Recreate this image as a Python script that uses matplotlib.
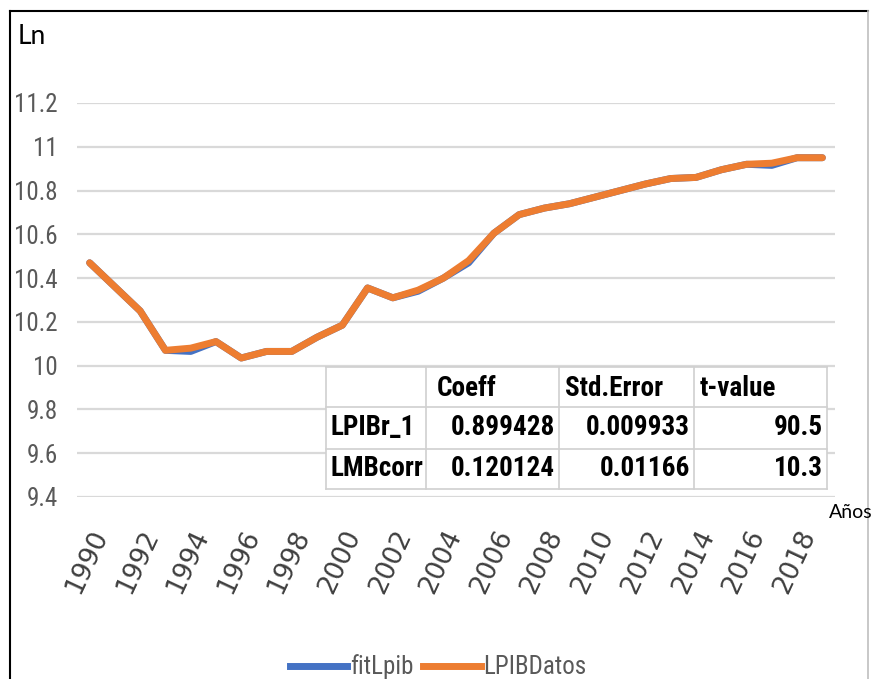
import matplotlib
matplotlib.use("Agg")
import matplotlib.pyplot as plt
from matplotlib import font_manager
from matplotlib.lines import Line2D
from matplotlib.patches import Rectangle
import matplotlib.transforms as mtransforms

# data
years = list(range(1990, 2020))
lpib_datos = [10.47, 10.36, 10.25, 10.07, 10.08, 10.11, 10.035, 10.065, 10.065, 10.13,
              10.185, 10.355, 10.31, 10.345, 10.40, 10.48, 10.605, 10.69, 10.72, 10.74,
              10.77, 10.80, 10.83, 10.855, 10.86, 10.895, 10.92, 10.925, 10.95, 10.95]
fit_lpib = [10.47, 10.36, 10.25, 10.07, 10.065, 10.11, 10.035, 10.065, 10.065, 10.13,
            10.185, 10.355, 10.31, 10.34, 10.40, 10.47, 10.605, 10.69, 10.72, 10.74,
            10.77, 10.80, 10.83, 10.855, 10.86, 10.895, 10.92, 10.915, 10.95, 10.95]
y_ticks = [9.4, 9.6, 9.8, 10, 10.2, 10.4, 10.6, 10.8, 11, 11.2]
y_tick_labels = ["9.4", "9.6", "9.8", "10", "10.2", "10.4", "10.6", "10.8", "11", "11.2"]

table_cols = ["", "Coeff", "Std.Error", "t-value"]
table_rows = ["LPIBr_1", "LMBcorr"]
table_vals = [["0.899428", "0.009933", "90.5"],
              ["0.120124", "0.01166", "10.3"]]

# pick a condensed face if the machine has one, else plain Liberation Sans
installed = {f.name for f in font_manager.fontManager.ttflist}
narrow = [n for n in ["Liberation Sans Narrow", "Roboto Condensed", "Open Sans Condensed",
                      "DejaVu Sans Condensed"] if n in installed]
narrow += ["Liberation Sans", "DejaVu Sans"]
GRAY = "#595959"

W, H = 876, 679
fig = plt.figure(figsize=(W / 100, H / 100), dpi=100)

# plot box in pixels
px0, px1, py_top, py_bot = 77, 835, 103, 497
ax = fig.add_axes([px0 / W, 1 - py_bot / H, (px1 - px0) / W, (py_bot - py_top) / H])

x = list(range(len(years)))
ax.plot(x, fit_lpib, color="#4472C4", lw=5, solid_capstyle="round", zorder=3)
ax.plot(x, lpib_datos, color="#ED7D31", lw=5, solid_capstyle="round", zorder=4)

ax.set_xlim(-0.5, len(years) - 0.5)
ax.set_ylim(9.4, 11.2)
ax.set_yticks(y_ticks)
ax.set_yticklabels(y_tick_labels, family=narrow, fontsize=18, color=GRAY)
ax.set_xticks(x[::2])
ax.set_xticklabels([str(y) for y in years[::2]], family="DejaVu Sans", fontsize=19,
                   color="#3F3F3F", rotation=65, ha="right", va="top",
                   rotation_mode="anchor")
shift = mtransforms.ScaledTranslation(2 / 72, 0, fig.dpi_scale_trans)
for lab in ax.get_xticklabels():
    lab.set_transform(lab.get_transform() + shift)
ax.tick_params(axis="x", length=0, pad=21)
ax.tick_params(axis="y", length=0, pad=14)
for s in ax.spines.values():
    s.set_visible(False)
ax.grid(axis="y", color="#D9D9D9", lw=1.6, zorder=0)
ax.set_axisbelow(True)


# coefficient table, laid out in pixel boundaries
def fx(p):
    return (p - px0) / (px1 - px0)


def fy(p):
    return (py_bot - p) / (py_bot - py_top)


col_edges = [326, 426, 559, 694, 827]
row_edges = [367, 407, 449, 489]
ax.add_patch(Rectangle((fx(col_edges[0]), fy(row_edges[-1])),
                       fx(col_edges[-1]) - fx(col_edges[0]),
                       fy(row_edges[0]) - fy(row_edges[-1]),
                       transform=ax.transAxes, facecolor="white", edgecolor="none",
                       zorder=5))
for c in col_edges:
    ax.add_line(Line2D([fx(c), fx(c)], [fy(row_edges[0]), fy(row_edges[-1])],
                       transform=ax.transAxes, color="#D0D0D0", lw=1.2, zorder=6))
for r in row_edges:
    ax.add_line(Line2D([fx(col_edges[0]), fx(col_edges[-1])], [fy(r), fy(r)],
                       transform=ax.transAxes, color="#D0D0D0", lw=1.2, zorder=6))

tkw = dict(transform=ax.transAxes, family=narrow, fontsize=19.5, fontweight="bold",
           color="black", zorder=7, va="center")
for j, name in enumerate(table_cols):
    if name:
        pad = 11 if j == 1 else 6
        ax.text(fx(col_edges[j] + pad), fy((row_edges[0] + row_edges[1]) / 2 + 2),
                name, ha="left", **tkw)
for i, rname in enumerate(table_rows):
    yc = fy((row_edges[i + 1] + row_edges[i + 2]) / 2)
    ax.text(fx(col_edges[0] + 5), yc, rname, ha="left", **tkw)
    for j, val in enumerate(table_vals[i]):
        ax.text(fx(col_edges[j + 2] - 4), yc, val, ha="right", **tkw)

# axis titles
fig.text(18 / W, 1 - 36 / H, "Ln", fontsize=19, family="Lato", color="black",
         ha="left", va="center")
fig.text(829 / W, 1 - 512 / H, "Años", fontsize=14, family="Lato", color="black",
         ha="left", va="center")

# legend
handles = [Line2D([], [], color="#4472C4", lw=5), Line2D([], [], color="#ED7D31", lw=5)]
leg = fig.legend(handles, ["fitLpib", "LPIBDatos"], loc="center",
                 bbox_to_anchor=(0.5, 1 - 667 / H), ncol=2, frameon=False,
                 prop={"family": narrow, "size": 18}, handlelength=2.3,
                 handletextpad=0.1, columnspacing=0.4, labelcolor=GRAY)

# outer frame of the pasted chart
fig.add_artist(Line2D([10 / W, 10 / W], [0, 1 - 11 / H], transform=fig.transFigure,
                      color="black", lw=1.5))
fig.add_artist(Line2D([10 / W, 868 / W], [1 - 11 / H, 1 - 11 / H],
                      transform=fig.transFigure, color="black", lw=1.5))
fig.add_artist(Line2D([868 / W, 868 / W], [0, 1 - 11 / H], transform=fig.transFigure,
                      color="#BFBFBF", lw=1.2))

fig.savefig("out.png", dpi=100)
